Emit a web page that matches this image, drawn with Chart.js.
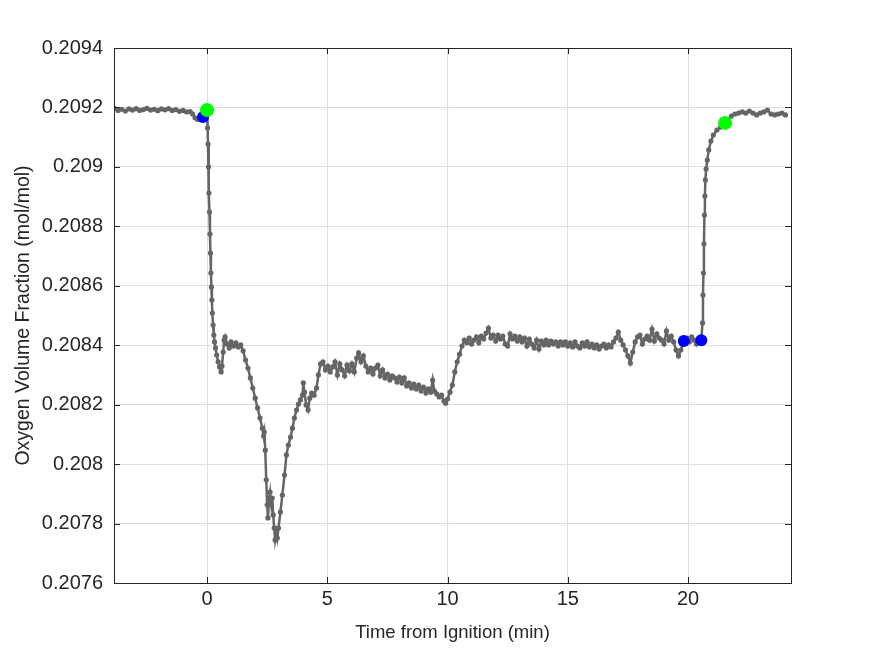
<!DOCTYPE html>
<html>
<head>
<meta charset="utf-8">
<script src="https://cdn.jsdelivr.net/npm/chart.js@4.4.0/dist/chart.umd.min.js"></script>
<style>
  body { margin: 0; background: #fff; }
  #wrap { width: 875px; height: 656px; }
</style>
</head>
<body>
<div id="wrap"><canvas id="o2Chart" width="875" height="656"></canvas></div>
<script>
const timeMin = [
  -3.85, -3.7, -3.55, -3.4, -3.25, -3.1, -2.95, -2.8, -2.65, -2.5, -2.35, -2.2, -2.05, -1.9, -1.75, -1.6, -1.45, -1.3, -1.15, -1.0,
  -0.85, -0.7, -0.6, -0.5, -0.4, -0.3, -0.17, -0.08, 0,
  0.02, 0.04, 0.06, 0.08, 0.10, 0.12, 0.14, 0.16, 0.18, 0.20, 0.22, 0.25, 0.28, 0.31, 0.35, 0.40, 0.46, 0.52, 0.58, 0.62,
  0.67, 0.71, 0.75, 0.83, 0.92, 1.0, 1.1, 1.2, 1.3, 1.4, 1.5, 1.6, 1.7, 1.8, 1.9, 2.0, 2.1, 2.2, 2.3, 2.35,
  2.38, 2.42, 2.46, 2.5, 2.53, 2.57, 2.62, 2.67, 2.71, 2.75, 2.79, 2.83, 2.88, 2.92, 2.97, 3.05, 3.13, 3.22, 3.3, 3.38,
  3.47, 3.55, 3.63, 3.72, 3.8, 3.88, 3.97, 4.0, 4.05, 4.12, 4.2, 4.27, 4.35, 4.45, 4.55, 4.63, 4.72, 4.82, 4.92, 5.02,
  5.12, 5.22, 5.32, 5.42, 5.52, 5.62, 5.72, 5.82, 5.92, 6.02, 6.12, 6.22, 6.3, 6.4, 6.5, 6.6, 6.7, 6.8, 6.9, 7.0,
  7.1, 7.2, 7.3, 7.4, 7.5, 7.6, 7.7, 7.8, 7.9, 8.0, 8.1, 8.2, 8.3, 8.4, 8.5, 8.6, 8.7, 8.8, 8.9, 9.0,
  9.1, 9.2, 9.3, 9.38, 9.45, 9.55, 9.65, 9.75, 9.85, 9.92, 10.0, 10.1, 10.2, 10.3, 10.4, 10.5, 10.6, 10.7, 10.8, 10.9,
  11.0, 11.1, 11.2, 11.3, 11.4, 11.5, 11.6, 11.7, 11.8, 11.9, 12.0, 12.1, 12.2, 12.3, 12.4, 12.5, 12.6, 12.7, 12.8, 12.9,
  13.0, 13.1, 13.2, 13.3, 13.4, 13.5, 13.6, 13.7, 13.8, 13.9, 14.0, 14.1, 14.2, 14.3, 14.4, 14.5, 14.6, 14.7, 14.8, 14.9,
  15.0, 15.1, 15.2, 15.3, 15.4, 15.5, 15.6, 15.7, 15.8, 15.9, 16.0, 16.1, 16.2, 16.3, 16.4, 16.5, 16.6, 16.7, 16.8, 16.9,
  17.0, 17.1, 17.2, 17.3, 17.4, 17.5, 17.6, 17.7, 17.8, 17.9, 18.0, 18.1, 18.2, 18.3, 18.4, 18.5, 18.6, 18.7, 18.8, 18.9,
  19.0, 19.1, 19.2, 19.3, 19.4, 19.5, 19.6, 19.7, 19.82, 19.95, 20.05, 20.15, 20.25, 20.35, 20.45, 20.55,
  20.6, 20.62, 20.64, 20.66, 20.68, 20.7, 20.72, 20.75, 20.8, 20.86, 20.95, 21.05, 21.2, 21.35, 21.5,
  21.65, 21.8, 21.95, 22.1, 22.25, 22.4, 22.55, 22.7, 22.85, 23.0, 23.15, 23.3, 23.45, 23.6, 23.75, 23.9, 24.05
];
const o2Frac = [
  0.209197, 0.209190, 0.209194, 0.209188, 0.209195, 0.209191, 0.209196, 0.209190, 0.209193, 0.209197, 0.209191, 0.209194, 0.209189, 0.209195, 0.209192, 0.209196, 0.209190, 0.209193, 0.209187, 0.209190,
  0.209185, 0.209186, 0.209178, 0.209165, 0.209160, 0.209163, 0.209168, 0.209178, 0.209191,
  0.209131, 0.209077, 0.209000, 0.208912, 0.208848, 0.208774, 0.208710, 0.208643, 0.208596, 0.208552, 0.208508, 0.208468, 0.208434, 0.208411, 0.208391, 0.208367, 0.208344, 0.208327, 0.208310, 0.208330,
  0.208377, 0.208417, 0.208428, 0.208404, 0.208391, 0.208411, 0.208397, 0.208408, 0.208394, 0.208401, 0.208381, 0.208350, 0.208323, 0.208290, 0.208256, 0.208222, 0.208189, 0.208155, 0.208121, 0.208095,
  0.208108, 0.208047, 0.207947, 0.207863, 0.207819, 0.207879, 0.207906, 0.207863, 0.207886, 0.207829, 0.207785, 0.207745, 0.207771, 0.207751, 0.207785, 0.207839, 0.207896, 0.207963, 0.208031, 0.208064,
  0.208091, 0.208121, 0.208155, 0.208182, 0.208202, 0.208216, 0.208232, 0.208273, 0.208242, 0.208199, 0.208182, 0.208222, 0.208239, 0.208232, 0.208256, 0.208300, 0.208337, 0.208344, 0.208317, 0.208330,
  0.208310, 0.208327, 0.208344, 0.208300, 0.208337, 0.208317, 0.208297, 0.208333, 0.208313, 0.208337, 0.208310, 0.208357, 0.208374, 0.208344, 0.208364, 0.208330, 0.208310, 0.208323, 0.208303, 0.208323,
  0.208333, 0.208297, 0.208317, 0.208290, 0.208303, 0.208283, 0.208297, 0.208290, 0.208276, 0.208293, 0.208273, 0.208290, 0.208263, 0.208273, 0.208256, 0.208269, 0.208253, 0.208266, 0.208246, 0.208259,
  0.208239, 0.208253, 0.208242, 0.208283, 0.208246, 0.208236, 0.208226, 0.208232, 0.208212, 0.208205, 0.208219, 0.208242, 0.208266, 0.208310, 0.208344, 0.208370, 0.208397, 0.208417, 0.208408, 0.208424,
  0.208404, 0.208417, 0.208428, 0.208408, 0.208431, 0.208421, 0.208441, 0.208458, 0.208424, 0.208434, 0.208414, 0.208434, 0.208421, 0.208431, 0.208404, 0.208397, 0.208438, 0.208421, 0.208431, 0.208414,
  0.208428, 0.208411, 0.208424, 0.208397, 0.208421, 0.208404, 0.208391, 0.208417, 0.208387, 0.208414, 0.208401, 0.208417, 0.208401, 0.208414, 0.208404, 0.208411, 0.208397, 0.208411, 0.208401, 0.208411,
  0.208397, 0.208408, 0.208394, 0.208411, 0.208397, 0.208391, 0.208408, 0.208397, 0.208411, 0.208394, 0.208404, 0.208391, 0.208401, 0.208387, 0.208397, 0.208404, 0.208391, 0.208401, 0.208394, 0.208411,
  0.208424, 0.208444, 0.208417, 0.208401, 0.208384, 0.208364, 0.208340, 0.208377, 0.208411, 0.208428, 0.208434, 0.208404, 0.208421, 0.208431, 0.208417, 0.208454, 0.208414, 0.208438, 0.208424, 0.208417,
  0.208404, 0.208448, 0.208417, 0.208431, 0.208411, 0.208384, 0.208364, 0.208384, 0.208414, 0.208424, 0.208411, 0.208428, 0.208417, 0.208404, 0.208424, 0.208417,
  0.208475, 0.208569, 0.208643, 0.208741, 0.208838, 0.208902, 0.208956, 0.208993, 0.209023, 0.209057, 0.209087, 0.209107, 0.209124, 0.209134, 0.209144,
  0.209158, 0.209171, 0.209178, 0.209181, 0.209185, 0.209181, 0.209188, 0.209181, 0.209175, 0.209181, 0.209185, 0.209191, 0.209178, 0.209175, 0.209178, 0.209181, 0.209175
];

// detected event markers
const blueTime = [-0.17, 19.82, 20.55];
const blueFrac = [0.209168, 0.208414, 0.208417];
const greenTime = [0, 21.54];
const greenFrac = [0.209191, 0.209148];

const xTicks = [0, 5, 10, 15, 20];
const yTicks = [0.2076, 0.2078, 0.208, 0.2082, 0.2084, 0.2086, 0.2088, 0.209, 0.2092, 0.2094];

const toPoints = (xs, ys) => xs.map((x, i) => ({ x: x, y: ys[i] }));

const axisColor = '#262626';
const fontFamily = 'Arial, "Liberation Sans", Helvetica, sans-serif';

// MATLAB-like box with inward ticks on all four sides
const boxTicks = {
    id: 'boxTicks',
    beforeDraw(chart) {
        const ctx = chart.ctx;
        ctx.save();
        ctx.fillStyle = '#fff';
        ctx.fillRect(0, 0, chart.width, chart.height);
        ctx.restore();
    },
    afterDatasetsDraw(chart) {
        const { ctx, chartArea: a, scales } = chart;
        const len = 6;
        ctx.save();
        ctx.strokeStyle = axisColor;
        ctx.lineWidth = 1;
        ctx.beginPath();
        scales.x.ticks.forEach(t => {
            const px = Math.round(scales.x.getPixelForValue(t.value)) + 0.5;
            ctx.moveTo(px, a.bottom); ctx.lineTo(px, a.bottom - len);
            ctx.moveTo(px, a.top); ctx.lineTo(px, a.top + len);
        });
        scales.y.ticks.forEach(t => {
            const py = Math.round(scales.y.getPixelForValue(t.value)) + 0.5;
            ctx.moveTo(a.left, py); ctx.lineTo(a.left + len, py);
            ctx.moveTo(a.right, py); ctx.lineTo(a.right - len, py);
        });
        ctx.stroke();
        ctx.strokeRect(Math.round(a.left) + 0.5, Math.round(a.top) + 0.5,
            Math.round(a.right - a.left), Math.round(a.bottom - a.top));
        ctx.restore();
    }
};

new Chart(document.getElementById('o2Chart'), {
    type: 'line',
    data: {
        datasets: [
            {
                label: 'green',
                data: toPoints(greenTime, greenFrac),
                showLine: false,
                pointRadius: 7,
                pointBackgroundColor: '#00ff00',
                pointBorderWidth: 0,
                order: 0
            },
            {
                label: 'blue',
                data: toPoints(blueTime, blueFrac),
                showLine: false,
                pointRadius: 6,
                pointBackgroundColor: '#0000ff',
                pointBorderWidth: 0,
                order: 1
            },
            {
                label: 'O2',
                data: toPoints(timeMin, o2Frac),
                borderColor: '#656565',
                borderWidth: 2.5,
                pointRadius: 2.6,
                pointBackgroundColor: '#656565',
                pointBorderWidth: 0,
                tension: 0,
                order: 2
            }
        ]
    },
    options: {
        responsive: false,
        animation: false,
        events: [],
        layout: { padding: { top: 48, right: 84, left: 0, bottom: 0 } },
        plugins: {
            legend: { display: false },
            tooltip: { enabled: false }
        },
        scales: {
            x: {
                type: 'linear',
                min: -3.87,
                max: 24.28,
                afterBuildTicks: scale => { scale.ticks = xTicks.map(v => ({ value: v })); },
                afterFit: scale => { scale.height = 73; },
                grid: { color: '#dfdfdf', drawTicks: false },
                border: { display: false },
                ticks: {
                    color: axisColor,
                    padding: 4,
                    maxRotation: 0,
                    font: { family: fontFamily, size: 20 }
                },
                title: {
                    display: true,
                    text: 'Time from Ignition (min)',
                    color: axisColor,
                    font: { family: fontFamily, size: 18.5 },
                    padding: { top: 0, bottom: 12 }
                }
            },
            y: {
                type: 'linear',
                min: 0.2076,
                max: 0.2094,
                afterBuildTicks: scale => { scale.ticks = yTicks.map(v => ({ value: v })); },
                afterFit: scale => { scale.width = 114; },
                grid: { color: '#dfdfdf', drawTicks: false },
                border: { display: false },
                ticks: {
                    color: axisColor,
                    padding: 11,
                    font: { family: fontFamily, size: 20 },
                    callback: v => String(Number(v.toFixed(4)))
                },
                title: {
                    display: true,
                    text: 'Oxygen Volume Fraction (mol/mol)',
                    color: axisColor,
                    font: { family: fontFamily, size: 19.5 },
                    padding: { top: 12, bottom: 0 }
                }
            }
        }
    },
    plugins: [boxTicks]
});
</script>
</body>
</html>
